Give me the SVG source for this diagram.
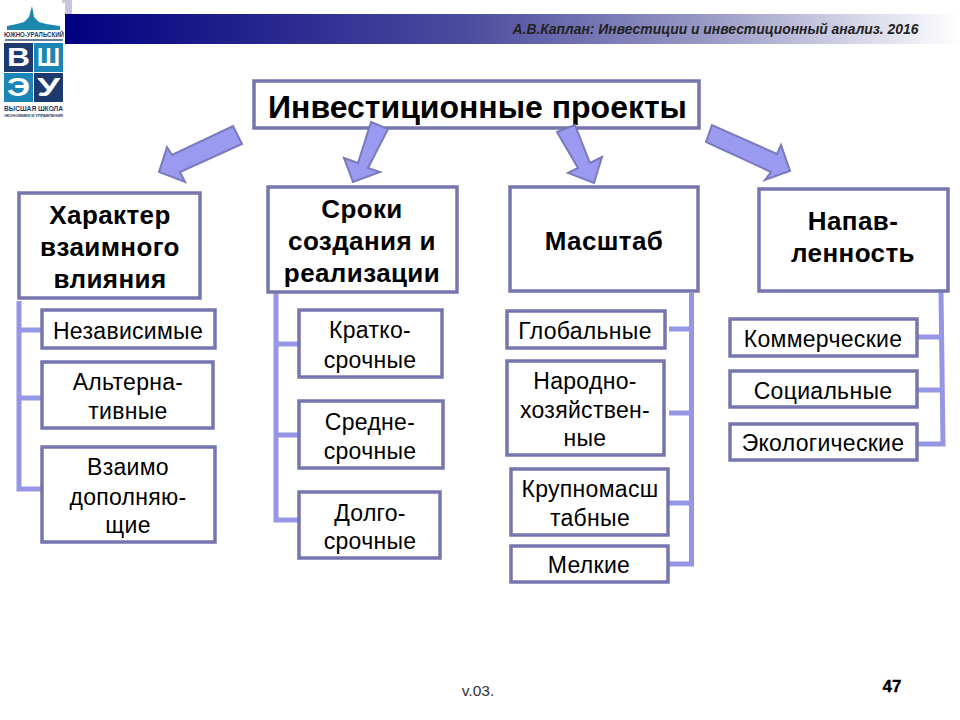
<svg xmlns="http://www.w3.org/2000/svg" width="960" height="720" viewBox="0 0 960 720">
<style>
text{font-family:"Liberation Sans",Arial,sans-serif;fill:#000;text-anchor:middle}
.b{fill:#fff;stroke:#7676ae;stroke-width:3.5}
.a{fill:#9a9af0;stroke:#7a7abc;stroke-width:2;stroke-linejoin:miter}
.c{fill:none;stroke:#9696e6;stroke-width:5}
.s{font-size:23px;letter-spacing:.3px}
.h{font-size:26px;font-weight:bold;letter-spacing:.4px}
.l{fill:#fff;font-weight:bold;font-size:25px}
.t{font-size:6.5px;font-weight:bold;fill:#1d3a66}
</style>
<defs>
<linearGradient id="bar" x1="0" x2="1" y1="0" y2="0">
<stop offset="0" stop-color="#000080"/>
<stop offset=".45" stop-color="#4c4c9e"/>
<stop offset=".72" stop-color="#9a9ac6"/>
<stop offset="1" stop-color="#ffffff"/>
</linearGradient>
</defs>
<rect width="960" height="720" fill="#fff"/>
<g id="header">
<rect x="62" y="0" width="10" height="29" fill="#c6c6e0"/>
<rect x="64" y="14" width="896" height="30" fill="url(#bar)"/>
<text x="715.500" y="34" style="font-size:13.900px;font-weight:bold;font-style:italic;fill:#222">А.В.Каплан: Инвестиции и инвестиционный анализ. 2016</text>
</g>
<g id="logo">
<rect x="3" y="3" width="62" height="115" fill="#fff"/>
<path d="M7 30V26L17 24L24 22L29 17L32 6L34 17L39 22L46 24L60 26V30Z" fill="#1b87ae"/>
<text x="34" y="37" class="t" textLength="60" lengthAdjust="spacingAndGlyphs">ЮЖНО-УРАЛЬСКИЙ</text>
<rect x="5" y="39" width="58" height="2" fill="#6a7f95"/>
<rect x="4" y="43" width="29" height="29" fill="#1d3a6e"/>
<rect x="34" y="43" width="29" height="29" fill="#1b86b6"/>
<rect x="4" y="73" width="29" height="29" fill="#1b86b6"/>
<rect x="34" y="73" width="29" height="29" fill="#1d3a6e"/>
<text x="18.500" y="66" class="l" textLength="23" lengthAdjust="spacingAndGlyphs">В</text>
<text x="48.500" y="66" class="l" textLength="23" lengthAdjust="spacingAndGlyphs">Ш</text>
<text x="18.500" y="96" class="l" textLength="23" lengthAdjust="spacingAndGlyphs">Э</text>
<text x="48.500" y="96" class="l" textLength="23" lengthAdjust="spacingAndGlyphs">У</text>
<text x="33.500" y="111" class="t" textLength="59" lengthAdjust="spacingAndGlyphs">ВЫСШАЯ ШКОЛА</text>
<text x="33.500" y="117" class="t" style="font-size:4px" textLength="59" lengthAdjust="spacingAndGlyphs">ЭКОНОМИКИ И УПРАВЛЕНИЯ</text>
</g>
<g id="root"><rect class="b" x="254" y="81" width="445" height="47"/><text x="477.500" y="118" style="font-size:32px;font-weight:bold">Инвестиционные проекты</text></g>
<g id="connectors">
<path class="c" d="M19 301V489H42M19 330H42M19 398H42"/>
<path class="c" d="M276 293V520H298M276 344H298M276 435H298"/>
<path class="c" d="M691.500 293V564H669M691.500 329H669M691.500 413H669M691.500 503H669"/>
<path class="c" d="M941 292L943 444H918M941.500 337H918M942 390H918"/>
<polygon class="a" points="233,126 242,144 180,172 185,182 159,172 167,147 172,155"/>
<polygon class="a" points="371,122 388,129 368,168 380,172 353,182 344,158 358,163"/>
<polygon class="a" points="557,132 575,125 590,163 602,157 594,183 568,173 578,168"/>
<polygon class="a" points="712,125 706,142 771,172 765,180 790,171 781,145 777,154"/>
</g>
<g id="col1"><rect class="b" x="19" y="193" width="181" height="105"/><text class="h" x="110" y="224">Характер</text><text class="h" x="110" y="256">взаимного</text><text class="h" x="110" y="288">влияния</text></g>
<g id="col2"><rect class="b" x="268" y="187" width="189" height="105"/><text class="h" x="362" y="218">Сроки</text><text class="h" x="362" y="250">создания и</text><text class="h" x="362" y="282">реализации</text></g>
<g id="col3"><rect class="b" x="510" y="187" width="188" height="104"/><text class="h" x="604" y="250">Масштаб</text></g>
<g id="col4"><rect class="b" x="759" y="189" width="189" height="102"/><text class="h" x="853" y="230">Напав-</text><text class="h" x="853" y="262">ленность</text></g>
<g id="n11"><rect class="b" x="42" y="310" width="173" height="38"/><text class="s" x="128" y="339">Независимые</text></g>
<g id="n12"><rect class="b" x="42" y="362" width="171" height="66"/><text class="s" x="128" y="390">Альтерна-</text><text class="s" x="128" y="419">тивные</text></g>
<g id="n13"><rect class="b" x="42" y="447" width="173" height="95"/><text class="s" x="128" y="475">Взаимо</text><text class="s" x="128" y="505">дополняю-</text><text class="s" x="128" y="533">щие</text></g>
<g id="n21"><rect class="b" x="299" y="310" width="143" height="67"/><text class="s" x="370" y="338">Кратко-</text><text class="s" x="370" y="368">срочные</text></g>
<g id="n22"><rect class="b" x="299" y="401" width="144" height="67"/><text class="s" x="370" y="430">Средне-</text><text class="s" x="370" y="459">срочные</text></g>
<g id="n23"><rect class="b" x="299" y="492" width="141" height="66"/><text class="s" x="370" y="521">Долго-</text><text class="s" x="370" y="549">срочные</text></g>
<g id="n31"><rect class="b" x="507" y="311" width="158" height="37"/><text class="s" x="585" y="339">Глобальные</text></g>
<g id="n32"><rect class="b" x="507" y="361" width="157" height="94"/><text class="s" x="585" y="389">Народно-</text><text class="s" x="585" y="418">хозяйствен-</text><text class="s" x="585" y="446">ные</text></g>
<g id="n33"><rect class="b" x="511" y="469" width="157" height="66"/><text class="s" x="590" y="497">Крупномасш</text><text class="s" x="590" y="526">табные</text></g>
<g id="n34"><rect class="b" x="511" y="546" width="157" height="36"/><text class="s" x="589" y="573">Мелкие</text></g>
<g id="n41"><rect class="b" x="730" y="319" width="187" height="37"/><text class="s" x="823" y="347">Коммерческие</text></g>
<g id="n42"><rect class="b" x="730" y="371" width="187" height="36"/><text class="s" x="823" y="399">Социальные</text></g>
<g id="n43"><rect class="b" x="730" y="424" width="187" height="36"/><text class="s" x="823" y="451">Экологические</text></g>
<g id="footer">
<text x="478" y="696" style="font-size:15.500px;fill:#333">v.03.</text>
<text x="892" y="692" style="font-size:17px;font-weight:bold;stroke:#000;stroke-width:.3">47</text>
</g>
</svg>
